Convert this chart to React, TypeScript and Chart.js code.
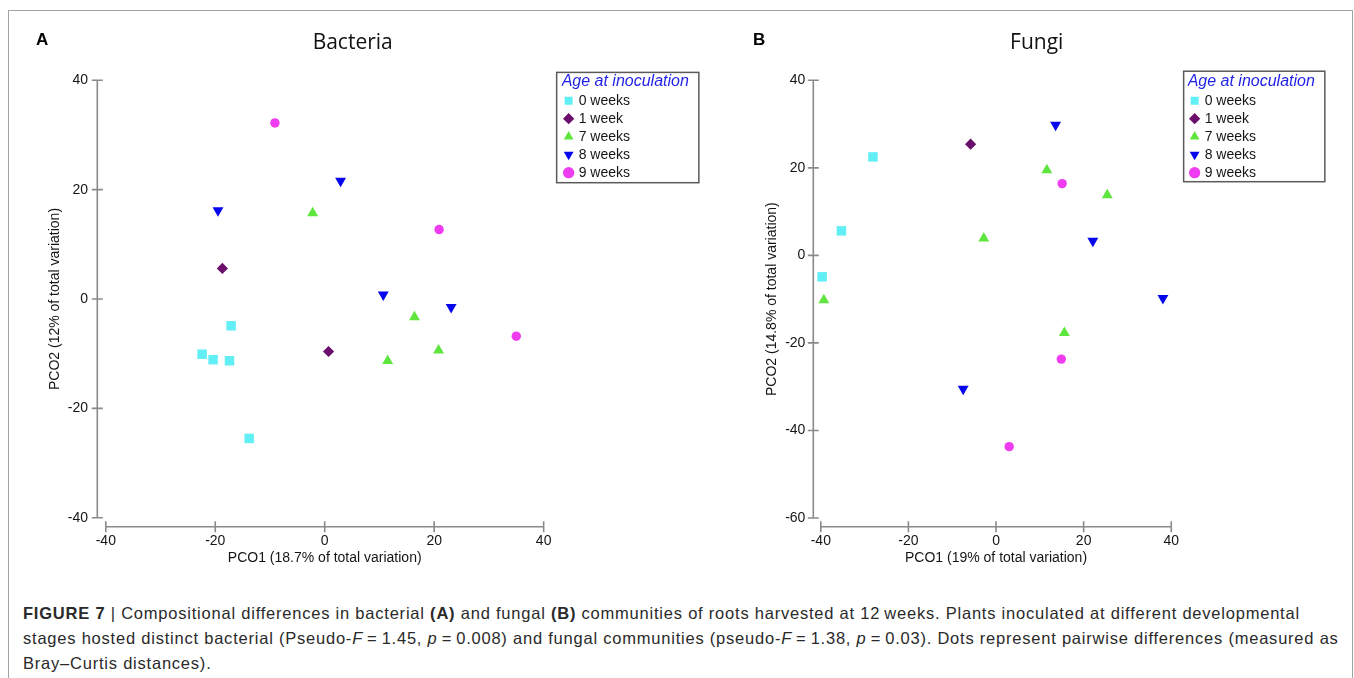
import React, { useEffect, useRef } from 'react';
import { Chart, registerables } from 'chart.js';

Chart.register(...registerables);

// ---------- data ----------
const AGE_GROUPS = ['0 weeks', '1 week', '7 weeks', '8 weeks', '9 weeks'];

// Panel A – Bacteria  [PCO1, PCO2]
const bacteria0w: number[][] = [[-17.1, -4.9], [-22.4, -10.1], [-20.4, -11.1], [-17.4, -11.3], [-13.8, -25.5]];
const bacteria1w: number[][] = [[-18.7, 5.6], [0.7, -9.6]];
const bacteria7w: number[][] = [[-2.2, 15.7], [16.4, -3.3], [11.5, -11.3], [20.8, -9.4]];
const bacteria8w: number[][] = [[-19.5, 16.2], [2.9, 21.6], [10.7, 0.8], [23.1, -1.5]];
const bacteria9w: number[][] = [[-9.1, 32.2], [20.9, 12.7], [35.0, -6.8]];

// Panel B – Fungi  [PCO1, PCO2]
const fungi0w: number[][] = [[-28.1, 22.5], [-35.3, 5.6], [-39.7, -4.9]];
const fungi1w: number[][] = [[-5.8, 25.4]];
const fungi7w: number[][] = [[-39.3, -10.2], [11.6, 19.5], [25.4, 13.8], [-2.8, 3.9], [15.6, -17.7]];
const fungi8w: number[][] = [[13.6, 29.8], [22.1, 3.3], [38.1, -9.8], [-7.5, -30.5]];
const fungi9w: number[][] = [[15.1, 16.4], [14.9, -23.7], [3.0, -43.7]];

// axis ranges / tick step
const bacteriaXRange = [-40, 40];
const bacteriaYRange = [-40, 40];
const fungiXRange = [-40, 40];
const fungiYRange = [-60, 40];
const TICK_STEP = 20;

// ---------- styles ----------
const GROUP_STYLE = [
  { color: '#62eef5', pointStyle: 'rect', radius: 6.7, rotation: 0 },
  { color: '#6a0f6b', pointStyle: 'rectRot', radius: 5.6, rotation: 0 },
  { color: '#5ee63e', pointStyle: 'triangle', radius: 6.3, rotation: 0 },
  { color: '#0505ee', pointStyle: 'triangle', radius: 6.3, rotation: 180 },
  { color: '#f03cf0', pointStyle: 'circle', radius: 4.7, rotation: 0 },
];

const FAMILY = '"Liberation Sans", Arial, Helvetica, sans-serif';
const TEXT = '#151515';
const LEGEND_TITLE_FONT = { family: FAMILY, size: 16, style: 'italic' as const, lineHeight: 1 };
const LEGEND_TITLE_PAD_TOP = 73.7;

// custom detached axes (PRIMER style), drawn from the scales
const axesPlugin = {
  id: 'pcoAxes',
  beforeDatasetsDraw(chart: any, _args: any, opts: any) {
    const { ctx, chartArea } = chart;
    const xs = chart.scales.x;
    const ys = chart.scales.y;
    const xv = xs.ticks.map((t: any) => t.value);
    const yv = ys.ticks.map((t: any) => t.value);
    const ax = chartArea.left - opts.yAxisGap;
    const ay = chartArea.bottom + opts.xAxisGap;
    ctx.save();
    ctx.strokeStyle = opts.color;
    ctx.lineWidth = opts.width;
    ctx.beginPath();
    ctx.moveTo(ax, ys.getPixelForValue(yv[0]));
    ctx.lineTo(ax, ys.getPixelForValue(yv[yv.length - 1]));
    yv.forEach((v: number) => {
      const py = ys.getPixelForValue(v);
      ctx.moveTo(ax - opts.tick, py);
      ctx.lineTo(ax + opts.tick, py);
    });
    ctx.moveTo(xs.getPixelForValue(xv[0]), ay);
    ctx.lineTo(xs.getPixelForValue(xv[xv.length - 1]), ay);
    xv.forEach((v: number) => {
      const px = xs.getPixelForValue(v);
      ctx.moveTo(px, ay - opts.tick);
      ctx.lineTo(px, ay + opts.tick);
    });
    ctx.stroke();
    ctx.restore();
  },
};

// frame around the legend (and room for its wide title)
const legendFramePlugin = {
  id: 'legendFrame',
  afterLayout(chart: any, _args: any, opts: any) {
    const lg = chart.legend;
    if (lg) lg.right = lg.left + opts.clipWidth;
  },
  afterDraw(chart: any, _args: any, opts: any) {
    const lg = chart.legend;
    if (!lg || !lg.legendHitBoxes || !lg.legendHitBoxes.length) return;
    const ctx = chart.ctx;
    ctx.save();
    ctx.font = `italic ${LEGEND_TITLE_FONT.size}px ${FAMILY}`;
    const tw = ctx.measureText(lg.options.title.text).width;
    const boxes = lg.legendHitBoxes;
    const last = boxes[boxes.length - 1];
    const left = lg.left - opts.padLeft;
    const right = lg.left + tw + opts.padRight;
    const top = lg.top + LEGEND_TITLE_PAD_TOP + LEGEND_TITLE_FONT.size / 2 - opts.padTop;
    const bottom = last.top + last.height + opts.padBottom;
    ctx.strokeStyle = '#5a5a5a';
    ctx.lineWidth = 1.5;
    ctx.strokeRect(left, top, right - left, bottom - top);
    ctx.restore();
  },
};

type PanelCfg = {
  title: string;
  xTitle: string;
  yTitle: string;
  series: number[][][];
  xRange: number[];
  yRange: number[];
  left: number;
  width: number;
  height: number;
  padL: number;
  padR: number;
  yScaleW: number;
  gapW: number;
  outerGapW: number;
  xScaleH: number;
  yTickPad: number;
  xTickPad: number;
  yTitlePad: number;
  xTitlePadBottom: number;
  yAxisGap: number;
  xAxisGap: number;
  frame: { padLeft: number; padRight: number; padTop: number; padBottom: number; clipWidth: number };
};

function PcoPanel({ cfg }: { cfg: PanelCfg }) {
  const ref = useRef<HTMLCanvasElement | null>(null);
  useEffect(() => {
    if (!ref.current) return;
    const tickFont = { family: FAMILY, size: 14 };
    const datasets = cfg.series.map((pts, i) => ({
      label: AGE_GROUPS[i],
      data: pts.map(([x, y]) => ({ x, y })),
      pointStyle: GROUP_STYLE[i].pointStyle,
      pointRadius: GROUP_STYLE[i].radius,
      pointRotation: GROUP_STYLE[i].rotation,
      backgroundColor: GROUP_STYLE[i].color,
      borderColor: GROUP_STYLE[i].color,
      borderWidth: 0,
      clip: false as any,
    }));
    const spacer = (w: number, weight: number) => ({
      type: 'linear',
      position: 'right',
      axis: 'y',
      display: true,
      weight,
      ticks: { display: false },
      grid: { display: false, drawTicks: false },
      border: { display: false },
      afterFit: (s: any) => { s.width = w; },
    });
    const chart = new Chart(ref.current, {
      type: 'scatter',
      data: { datasets: datasets as any },
      plugins: [axesPlugin, legendFramePlugin],
      options: {
        responsive: false,
        animation: false,
        devicePixelRatio: 1,
        events: [],
        layout: { padding: { left: cfg.padL, right: cfg.padR, top: 0, bottom: 0 } },
        scales: {
          x: {
            type: 'linear',
            position: 'bottom',
            min: cfg.xRange[0],
            max: cfg.xRange[1],
            ticks: { stepSize: TICK_STEP, padding: cfg.xTickPad, font: tickFont, color: TEXT, maxRotation: 0, autoSkip: false },
            grid: { display: false, drawTicks: false },
            border: { display: false },
            title: {
              display: true,
              text: cfg.xTitle,
              font: { family: FAMILY, size: 14 },
              color: TEXT,
              padding: { top: 0, bottom: cfg.xTitlePadBottom },
            },
            afterFit: (s: any) => { s.height = cfg.xScaleH; },
          },
          y: {
            type: 'linear',
            position: 'left',
            min: cfg.yRange[0],
            max: cfg.yRange[1],
            ticks: { stepSize: TICK_STEP, padding: cfg.yTickPad, font: tickFont, color: TEXT, autoSkip: false },
            grid: { display: false, drawTicks: false },
            border: { display: false },
            title: {
              display: true,
              text: cfg.yTitle,
              font: { family: FAMILY, size: 14 },
              color: TEXT,
              padding: { top: cfg.yTitlePad, bottom: 0 },
            },
            afterFit: (s: any) => { s.width = cfg.yScaleW; },
          },
          gap: spacer(cfg.gapW, 0) as any,
          outerGap: spacer(cfg.outerGapW, 2000) as any,
        },
        plugins: {
          title: {
            display: true,
            text: cfg.title,
            color: '#111',
            font: { family: '"Open Sans", "Noto Sans", sans-serif', size: 21, weight: 'normal' },
            padding: { top: 30.4, bottom: 24.7 },
          },
          legend: {
            display: true,
            position: 'right',
            align: 'start',
            maxWidth: 80,
            title: {
              display: true,
              text: 'Age at inoculation',
              color: '#1f1fe6',
              font: LEGEND_TITLE_FONT,
              padding: { top: LEGEND_TITLE_PAD_TOP, bottom: 0 },
              position: 'start',
            },
            labels: {
              usePointStyle: true,
              boxWidth: 6,
              boxHeight: 8,
              padding: 4,
              color: TEXT,
              font: { family: FAMILY, size: 14 },
            },
          },
          tooltip: { enabled: false },
          pcoAxes: { color: '#8a8a8a', width: 1.6, tick: 5.5, yAxisGap: cfg.yAxisGap, xAxisGap: cfg.xAxisGap },
          legendFrame: cfg.frame,
        } as any,
      },
    });
    return () => chart.destroy();
  }, [cfg]);
  return (
    <canvas
      ref={ref}
      width={cfg.width}
      height={cfg.height}
      style={{ position: 'absolute', left: cfg.left, top: 0, width: cfg.width, height: cfg.height }}
    />
  );
}

const panelA: PanelCfg = {
  title: 'Bacteria',
  xTitle: 'PCO1 (18.7% of total variation)',
  yTitle: 'PCO2 (12% of total variation)',
  series: [bacteria0w, bacteria1w, bacteria7w, bacteria8w, bacteria9w],
  xRange: bacteriaXRange,
  yRange: bacteriaYRange,
  left: 0,
  width: 710,
  height: 590,
  padL: 40,
  padR: 44.6,
  yScaleW: 65.8,
  gapW: 18,
  outerGapW: 25.4,
  xScaleH: 72.3,
  yTickPad: 17.8,
  xTickPad: 14.6,
  yTitlePad: 6.6,
  xTitlePadBottom: 23.6,
  yAxisGap: 8.5,
  xAxisGap: 9,
  frame: { padLeft: 5, padRight: 10, padTop: 9.3, padBottom: 3, clipWidth: 150 },
};

const panelB: PanelCfg = {
  title: 'Fungi',
  xTitle: 'PCO1 (19% of total variation)',
  yTitle: 'PCO2 (14.8% of total variation)',
  series: [fungi0w, fungi1w, fungi7w, fungi8w, fungi9w],
  xRange: fungiXRange,
  yRange: fungiYRange,
  left: 700,
  width: 654,
  height: 590,
  padL: 60,
  padR: 40.6,
  yScaleW: 60.8,
  gapW: 16.4,
  outerGapW: 47.4,
  xScaleH: 72,
  yTickPad: 15.4,
  xTickPad: 14.3,
  yTitlePad: 3.3,
  xTitlePadBottom: 23.3,
  yAxisGap: 7.5,
  xAxisGap: 8.7,
  frame: { padLeft: 4, padRight: 10, padTop: 10.5, padBottom: 2, clipWidth: 150 },
};

const TS = '\u2009';

export default function App() {
  return (
    <div style={{ position: 'absolute', left: 0, top: 0, width: 1354, height: 678, overflow: 'hidden', background: '#fff' }}>
      <div
        style={{
          position: 'absolute', left: 8, top: 10, width: 1345, height: 700,
          border: '1px solid #a3a3a3', boxSizing: 'border-box',
        }}
      />
      <PcoPanel cfg={panelA} />
      <PcoPanel cfg={panelB} />
      <div style={{ position: 'absolute', left: 36, top: 30, font: `bold 17px ${FAMILY}`, color: '#000' }}>A</div>
      <div style={{ position: 'absolute', left: 753, top: 30, font: `bold 17px ${FAMILY}`, color: '#000' }}>B</div>
      <div
        style={{
          position: 'absolute', left: 23, top: 600.5, font: `16.5px ${FAMILY}`, lineHeight: '25px',
          letterSpacing: '0.78px', color: '#2a2a2a', whiteSpace: 'nowrap',
        }}
      >
        <b>FIGURE 7</b>{' '}<span style={{ fontWeight: 300 }}>|</span>{' '}Compositional differences in bacterial <b>(A)</b> and fungal <b>(B)</b> communities of roots harvested at 12{TS}weeks. Plants inoculated at different developmental
        <br />
        stages hosted distinct bacterial (Pseudo-<i>F</i>{TS}={TS}1.45, <i>p</i>{TS}={TS}0.008) and fungal communities (pseudo-<i>F</i>{TS}={TS}1.38, <i>p</i>{TS}={TS}0.03). Dots represent pairwise differences (measured as
        <br />
        Bray–Curtis distances).
      </div>
    </div>
  );
}
